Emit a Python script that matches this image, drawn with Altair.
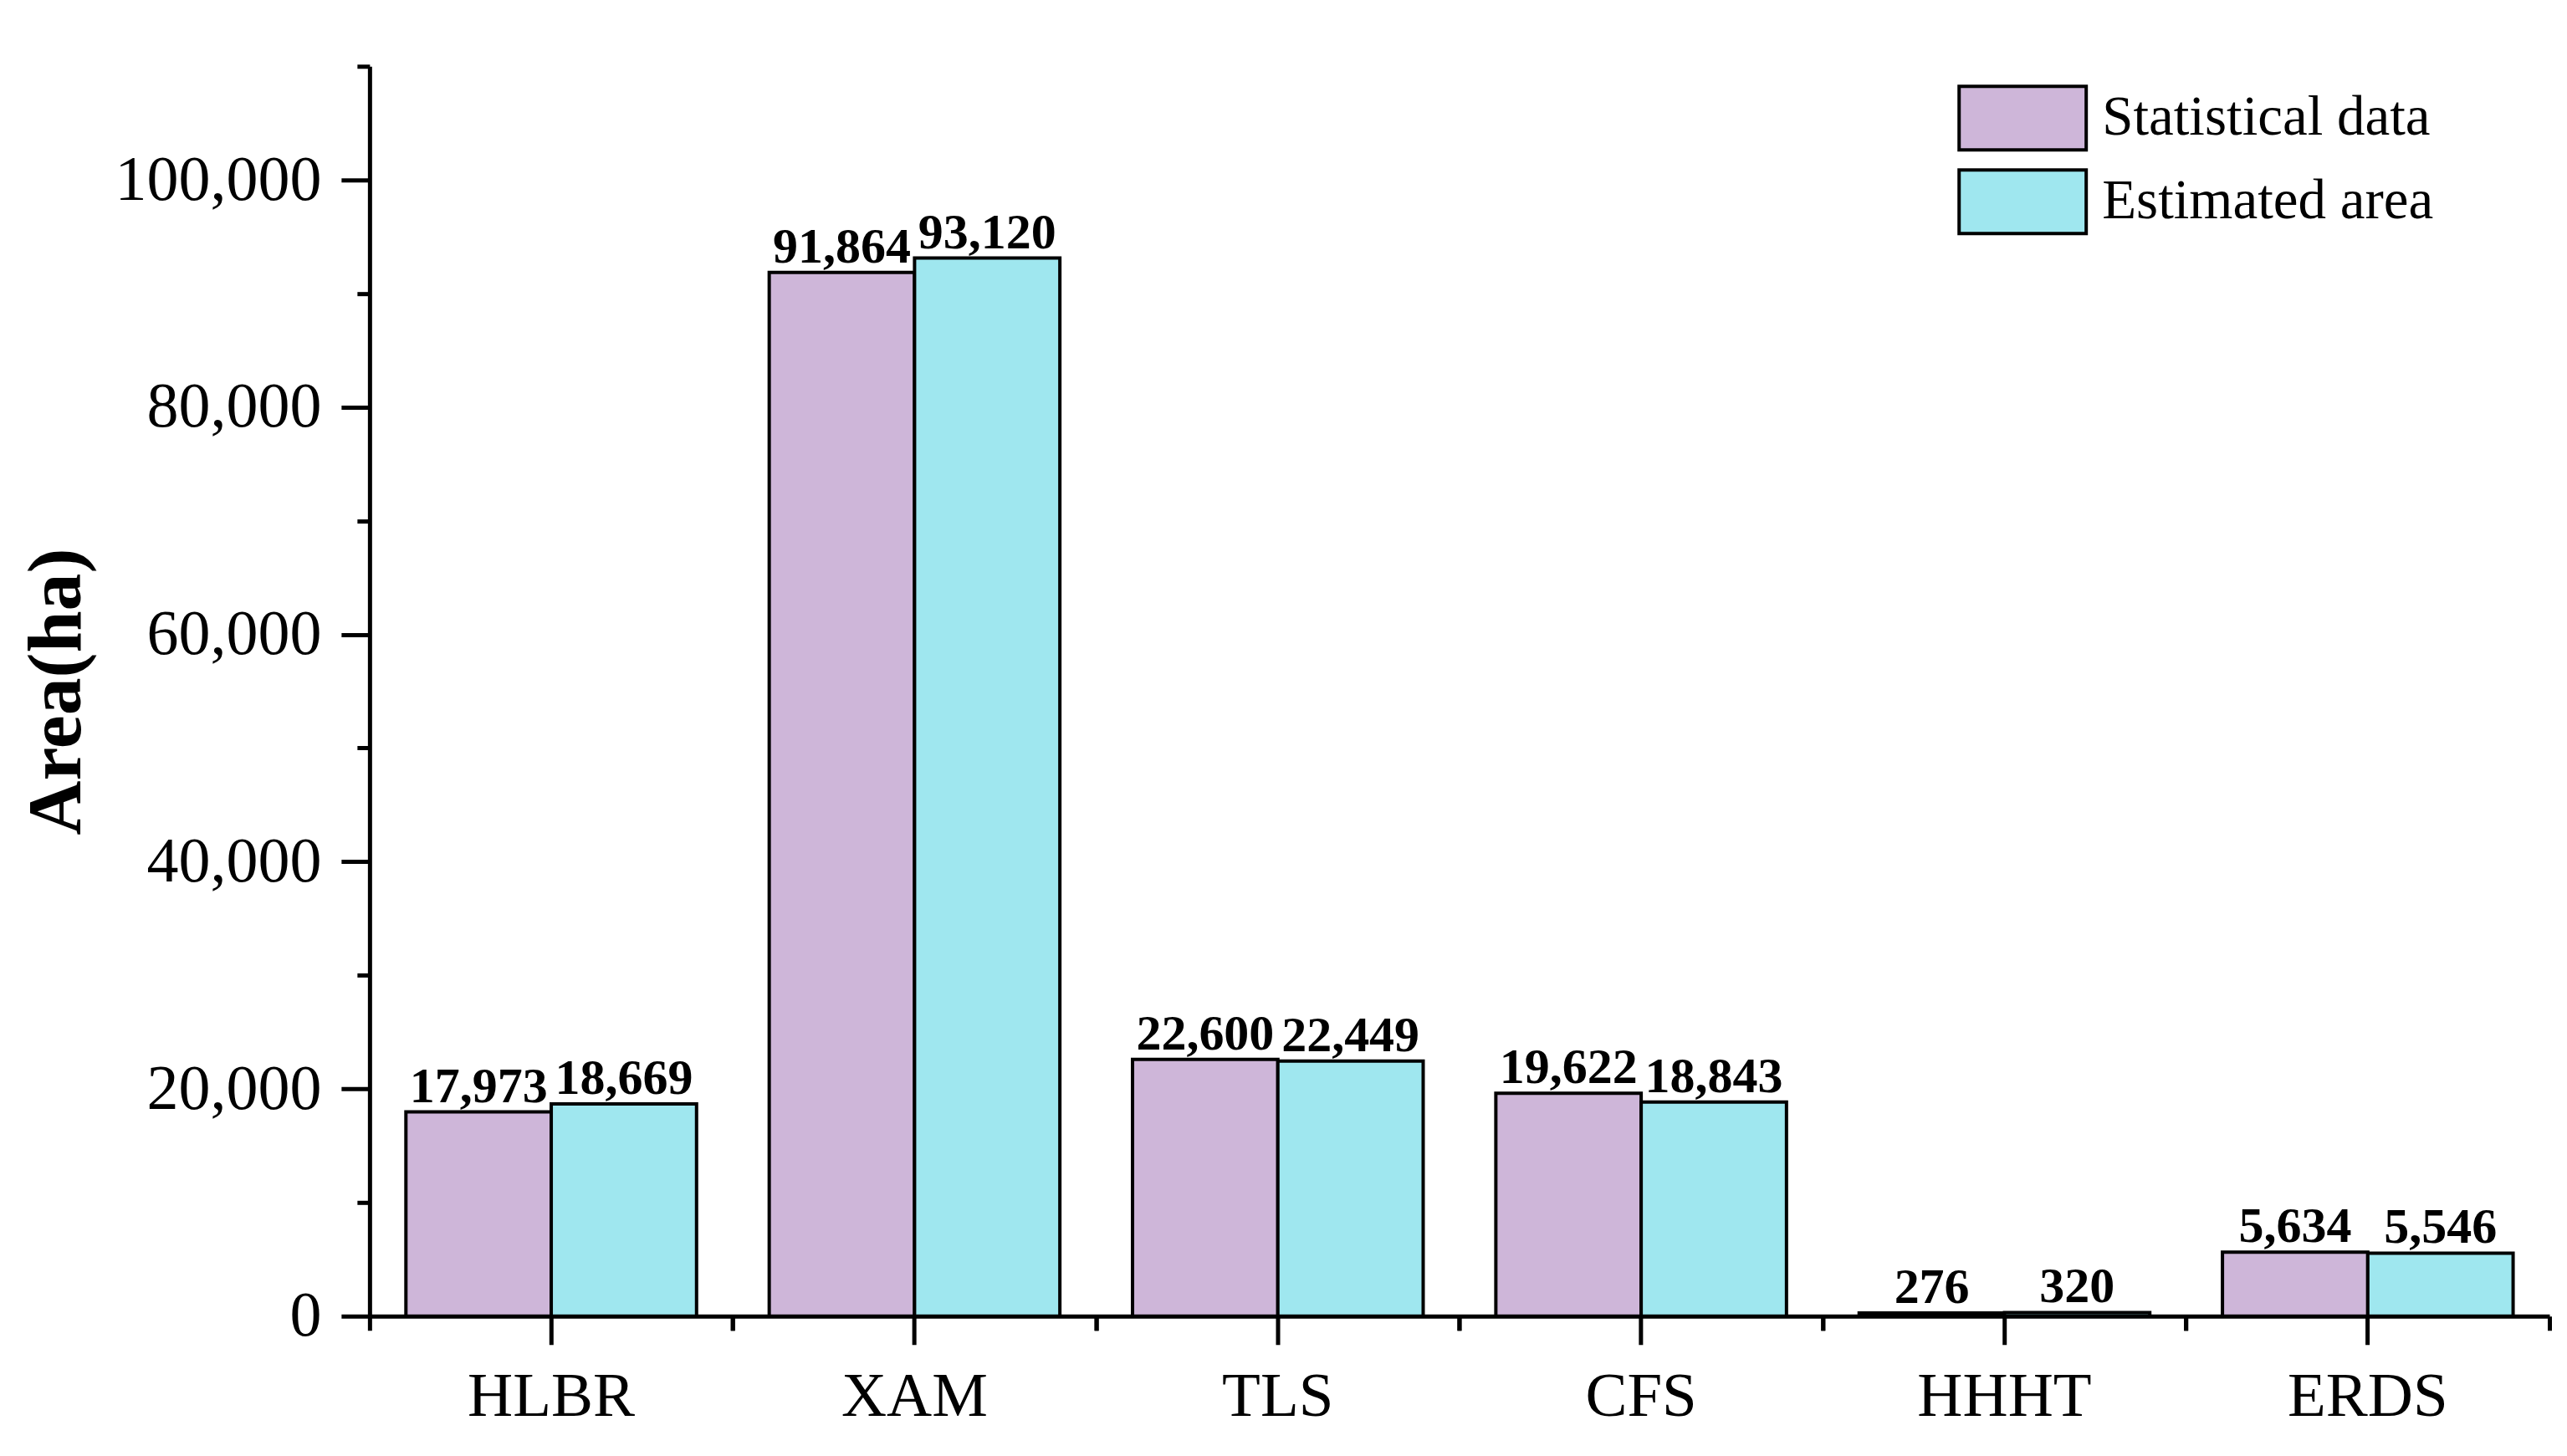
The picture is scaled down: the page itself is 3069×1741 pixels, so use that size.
import altair as alt
import pandas as pd

categories = ["HLBR", "XAM", "TLS", "CFS", "HHHT", "ERDS"]
series_names = ["Statistical data", "Estimated area"]
statistical = [17973, 91864, 22600, 19622, 276, 5634]
estimated = [18669, 93120, 22449, 18843, 320, 5546]
colors = ["#CEB6D9", "#9FE7EF"]
y_major = [0, 20000, 40000, 60000, 80000, 100000]
y_minor = [10000, 30000, 50000, 70000, 90000, 110000]

rows = []
for c, s, e in zip(categories, statistical, estimated):
    rows.append({"region": c, "series": series_names[0], "area": s})
    rows.append({"region": c, "series": series_names[1], "area": e})
df = pd.DataFrame(rows)

FONT = "Liberation Serif"
W, H = 2607, 1495

x_scale = alt.Scale(domain=categories, paddingInner=0, paddingOuter=0)
xo_scale = alt.Scale(domain=series_names, paddingInner=0, paddingOuter=0.25)
y_scale = alt.Scale(domain=[0, 110000], nice=False)

base = alt.Chart(df)

bars = base.mark_bar(stroke="black", strokeWidth=4).encode(
    x=alt.X("region:N", scale=x_scale, sort=categories,
            axis=alt.Axis(orient="bottom", title=None, labelAngle=0, labelFont=FONT,
                          labelFontSize=75, labelColor="black", labelPadding=26,
                          labelLimit=0,
                          tickSize=34, tickWidth=5, tickColor="black",
                          domainColor="black", domainWidth=5, grid=False)),
    xOffset=alt.XOffset("series:N", scale=xo_scale, sort=series_names),
    y=alt.Y("area:Q", scale=y_scale,
            axis=alt.Axis(orient="left", title="Area(ha)", values=y_major, format=",d",
                          labelFont=FONT, labelFontSize=76, labelColor="black",
                          labelPadding=24, labelLimit=0,
                          tickSize=34, tickWidth=5, tickColor="black",
                          domainColor="black", domainWidth=5, grid=False,
                          titleFont=FONT, titleFontSize=90, titleFontWeight="bold",
                          titleColor="black", titleX=-327, titleY=H / 2,
                          titleAngle=270, titleBaseline="bottom", titleAlign="center")),
    color=alt.Color("series:N", scale=alt.Scale(domain=series_names, range=colors),
                    sort=series_names,
                    legend=alt.Legend(title=None, orient="none", legendX=1937, legendY=22,
                                      symbolType="M-2,-1H2V1H-2Z", symbolSize=5776,
                                      symbolStrokeColor="black", symbolStrokeWidth=4,
                                      symbolOpacity=1, labelFont=FONT, labelFontSize=67,
                                      labelColor="black", labelOffset=55, rowPadding=8,
                                      labelLimit=0, padding=0)),
)

labels = base.mark_text(font=FONT, fontSize=60, fontWeight="bold", color="black",
                        baseline="alphabetic", dy=-12).encode(
    x=alt.X("region:N", scale=x_scale, sort=categories,
            axis=alt.Axis(orient="bottom", bandPosition=0, labels=False, domain=False,
                          tickSize=17, tickWidth=5, tickColor="black", title=None, grid=False)),
    xOffset=alt.XOffset("series:N", scale=xo_scale, sort=series_names),
    y=alt.Y("area:Q", scale=y_scale,
            axis=alt.Axis(orient="left", values=y_minor, labels=False, domain=False,
                          tickSize=15, tickWidth=5, tickColor="black", title=None, grid=False)),
    text=alt.Text("area:Q", format=",d"),
)

ghost = base.mark_bar(opacity=0).encode(
    x=alt.X("region:N", scale=x_scale, sort=categories,
            axis=alt.Axis(orient="bottom", bandPosition=1, labels=False, domain=False,
                          tickSize=17, tickWidth=5, tickColor="black", title=None, grid=False)),
    xOffset=alt.XOffset("series:N", scale=xo_scale, sort=series_names),
    y=alt.Y("area:Q", scale=y_scale, axis=None),
)

chart = alt.layer(bars, labels, ghost).resolve_axis(
    x="independent", y="independent"
).properties(
    width=W, height=H,
    padding={"left": 16, "top": 68, "right": 10, "bottom": 5},
    background="white",
).configure_view(stroke=None)

chart.save("out.html", embed_options={"renderer": "svg", "actions": False})
